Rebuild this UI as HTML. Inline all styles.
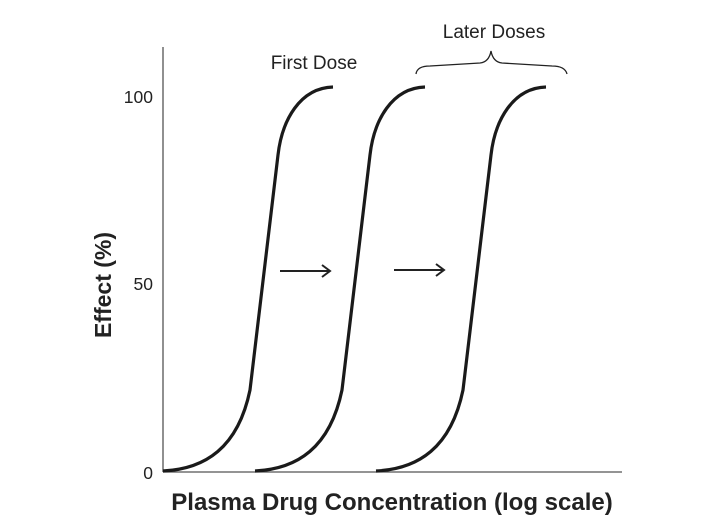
<!DOCTYPE html>
<html><head><style>
body{margin:0;background:#fff;}
svg{display:block;}
</style></head><body>
<svg width="709" height="531" xmlns="http://www.w3.org/2000/svg">
<rect width="709" height="531" fill="#fff"/>
<g stroke="#555" stroke-width="1.3" fill="none">
<line x1="163" y1="47" x2="163" y2="472"/>
<line x1="163" y1="472" x2="622" y2="472"/>
</g>
<g font-family="Liberation Sans, sans-serif" fill="#222">
<text x="153" y="103" font-size="17.5" text-anchor="end">100</text>
<text x="153" y="290" font-size="17.5" text-anchor="end">50</text>
<text x="153" y="479" font-size="17.5" text-anchor="end">0</text>
<text x="314" y="69" font-size="19" text-anchor="middle">First Dose</text>
<text x="494" y="38" font-size="19" text-anchor="middle">Later Doses</text>
<text x="392" y="510" font-size="24" font-weight="bold" text-anchor="middle">Plasma Drug Concentration (log scale)</text>
<text transform="translate(111,285) rotate(-90)" font-size="23" font-weight="bold" text-anchor="middle">Effect (%)</text>
</g>
<defs>
<path id="c" d="M163,471 C205,469 238,448 250,390 L278,155 C282,120 300,88 333,87" fill="none" stroke="#1a1a1a" stroke-width="3.2"/>
</defs>
<use href="#c"/>
<use href="#c" transform="translate(92,0)"/>
<use href="#c" transform="translate(213,0)"/>
<g stroke="#222" stroke-width="2" fill="none">
<line x1="280" y1="271" x2="330" y2="271"/>
<polyline points="322,265 330,271 322,277"/>
<line x1="394" y1="270" x2="444" y2="270"/>
<polyline points="436,264 444,270 436,276"/>
<path d="M416,74 Q417,66 430,66 L480,63 Q489,62 491,51 Q493,62 502,63 L552,66 Q565,66 567,74" stroke-width="1.3"/>
</g>
</svg>
</body></html>
